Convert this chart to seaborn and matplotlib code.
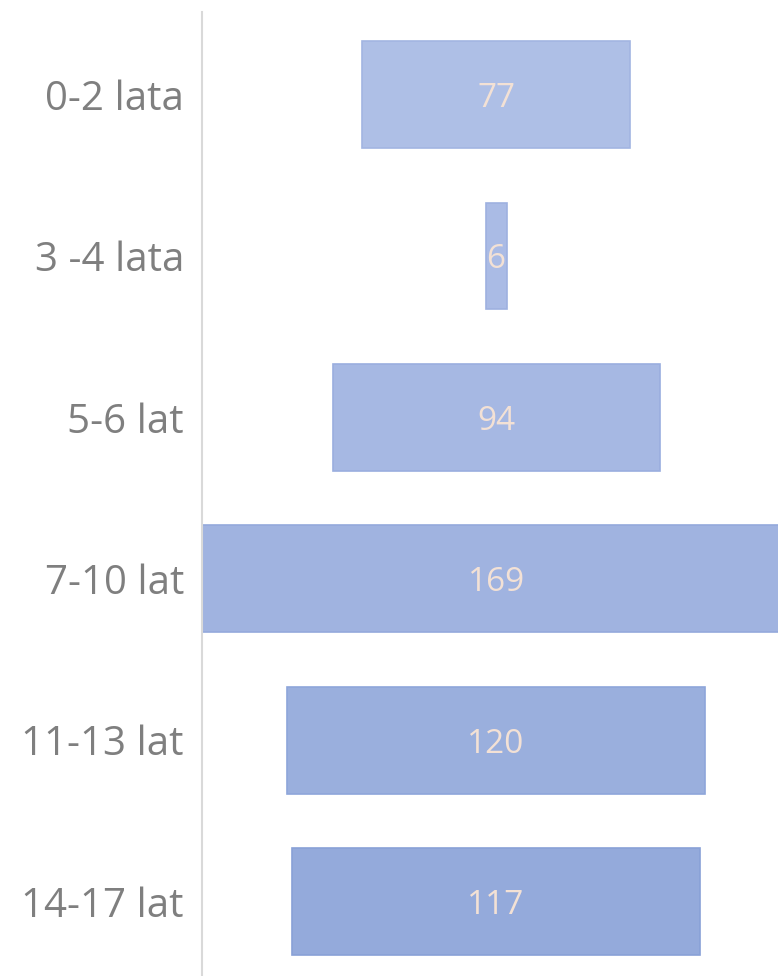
import matplotlib
matplotlib.use('Agg')
import matplotlib.pyplot as plt
import seaborn as sns

age_groups = ['0-2 lata', '3 -4 lata', '5-6 lat', '7-10 lat', '11-13 lat', '14-17 lat']
counts = [77, 6, 94, 169, 120, 117]
bar_colors = ['#aebfe6', '#aabbe5', '#a6b8e3', '#a0b3e0', '#9aafdd', '#94aadb']
edge_colors = ['#a2b5e2', '#9eb1e0', '#9aaedf', '#94a9dc', '#8ea6da', '#89a1d7']

sns.set_style('white')
plt.rcParams['font.family'] = ['Open Sans', 'DejaVu Sans']

fig = plt.figure(figsize=(7.78, 9.76), dpi=100)
ax = fig.add_axes([202 / 778, 0, 576 / 778, 964 / 976])

sns.barplot(x=counts, y=age_groups, hue=age_groups, palette=bar_colors,
            saturation=1, orient='h', width=0.66, legend=False, ax=ax)

# centre each bar on zero to get the funnel shape
for patch, ec, n in zip(ax.patches, edge_colors, counts):
    patch.set_x(-patch.get_width() / 2)
    patch.set_edgecolor(ec)
    patch.set_linewidth(1.2)
    ax.text(patch.get_x() + patch.get_width() / 2,
            patch.get_y() + patch.get_height() / 2,
            str(n), ha='center', va='center_baseline', color='#f3e1d5', fontsize=24)

ax.set_xlim(-84.5, 81)
ax.set_ylim(5.46, -0.51)
ax.set_xticks([])
ax.set_xlabel('')
ax.set_ylabel('')
ax.tick_params(axis='y', length=0, pad=13, labelsize=29, labelcolor='#7f7f7f')

for side in ['top', 'right', 'bottom']:
    ax.spines[side].set_visible(False)
ax.spines['left'].set_color('#d9d9d9')
ax.spines['left'].set_linewidth(1.5)

plt.savefig('out.png', dpi=100)
